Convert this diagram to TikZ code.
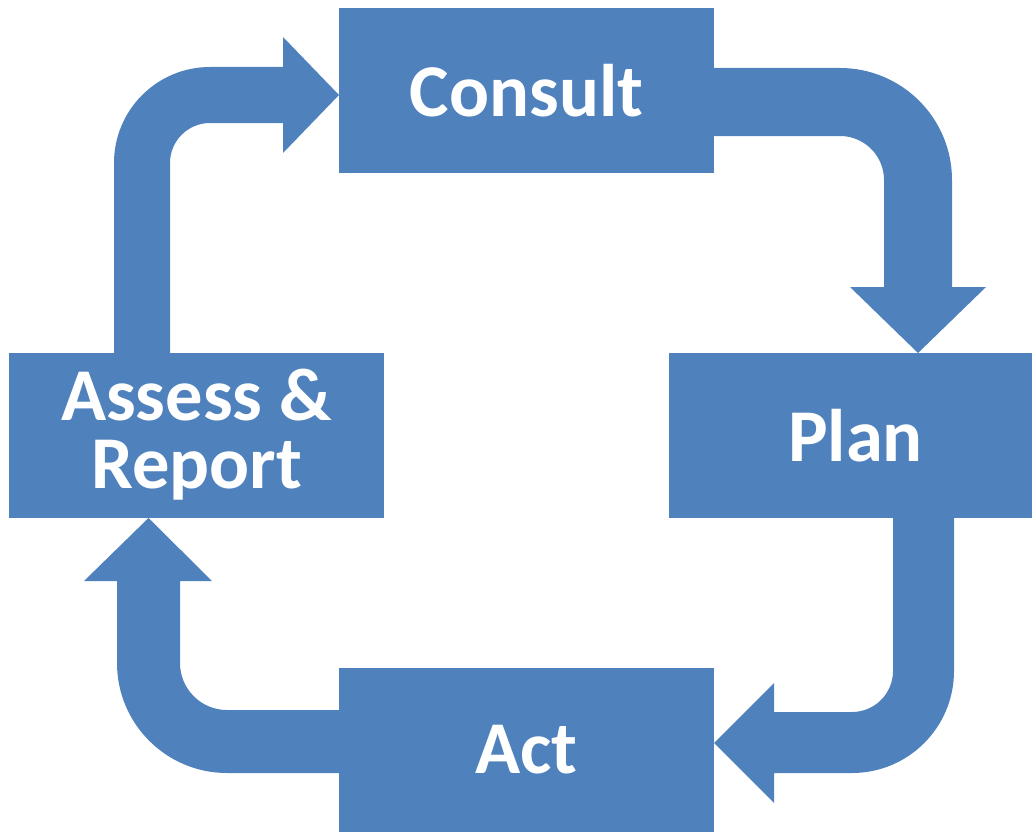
\documentclass[tikz,border=0pt]{standalone}
\usepackage{fontspec}
\setmainfont{Carlito}
\definecolor{boxblue}{HTML}{4F81BD}
\tikzset{
  stagebox/.style={fill=boxblue, draw=none, inner sep=0pt, text=white,
    font=\fontsize{74.5}{68}\selectfont\bfseries, align=center},
  stagelabel/.style={text=white, font=\fontsize{74.5}{68}\selectfont\bfseries,
    align=center, inner sep=0pt},
  bentarrow/.style={fill=boxblue, draw=none}
}
\begin{document}
\begin{tikzpicture}[x=1pt,y=-1pt]
\useasboundingbox (0,0) rectangle (1032,832);
% bent arrows (drawn beneath the boxes)
% Consult -> Plan
\fill[bentarrow] (714,68) -- (840,68) arc[start angle=270,end angle=360,radius=112]
  -- (952,287) -- (986,287) -- (918,353) -- (850,287) -- (884,287) -- (884,180)
  arc[start angle=0,end angle=-90,radius=44] -- (714,136) -- cycle;
% Plan -> Act
\fill[bentarrow] (954,518) -- (954,671) arc[start angle=0,end angle=90,radius=102]
  -- (774,773) -- (774,803) -- (714,743) -- (774,683) -- (774,712) -- (852,712)
  arc[start angle=90,end angle=0,radius=41] -- (893,518) -- cycle;
% Act -> Assess
\fill[bentarrow] (339,773) -- (227,773) arc[start angle=90,end angle=180,radius=110]
  -- (117,581) -- (84,581) -- (148.5,518) -- (212,581) -- (180,581) -- (180,663)
  arc[start angle=180,end angle=90,radius=47] -- (339,710) -- cycle;
% Assess -> Consult
\fill[bentarrow] (114,353) -- (114,163) arc[start angle=180,end angle=270,radius=96]
  -- (283,67) -- (283,37) -- (339,95) -- (283,153) -- (283,123) -- (210,123)
  arc[start angle=270,end angle=180,radius=40] -- (170,353) -- cycle;
% boxes
\node[stagebox, minimum width=375pt, minimum height=165pt] (consult) at (526.5,90.5) {Consult};
\node[stagebox, minimum width=363pt, minimum height=165pt] (plan) at (850.5,435.5) {};
\node[stagelabel] (planlabel) at ([xshift=5pt]plan.center) {Plan};
\node[stagebox, minimum width=375pt, minimum height=164pt] (act) at (526.5,750) {Act};
\node[stagebox, minimum width=375pt, minimum height=165pt] (assess) at (196.5,435.5) {};
\node[stagelabel] (assesslabel) at ([yshift=1pt]assess.center) {Assess \&\\Report};
\end{tikzpicture}
\end{document}
